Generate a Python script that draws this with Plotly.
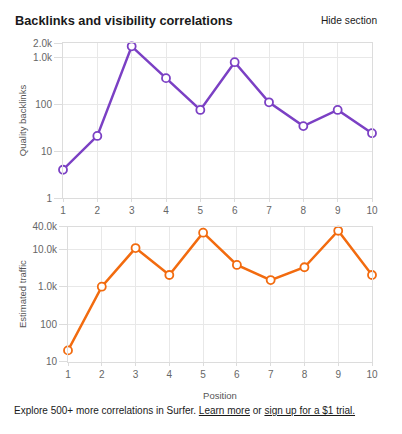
import math
import plotly.graph_objects as go

positions = [1, 2, 3, 4, 5, 6, 7, 8, 9, 10]
quality_backlinks = [4, 21, 1700, 357, 75, 780, 109, 34, 75, 24]
estimated_traffic = [20, 1000, 10700, 2050, 27500, 3800, 1500, 3300, 31000, 2050]

bl_tickvals = [1, 10, 100, 1000, 2000]
bl_ticktext = ["1", "10", "100", "1.0k", "2.0k"]
tr_tickvals = [10, 100, 1000, 10000, 40000]
tr_ticktext = ["10", "100", "1.0k", "10.0k", "40.0k"]

PURPLE = "#7b40c4"
ORANGE = "#f26b0f"
FONT = "Liberation Sans, Arial, Helvetica, sans-serif"
GRID = "#e8e8e8"
LINEC = "#dcdcdc"
TICKC = "#666666"

W, H = 402, 434


def px_x(p):
    return p / W


def px_y(p):
    return 1 - p / H


fig = go.Figure()
fig.add_trace(go.Scatter(
    x=positions, y=quality_backlinks, mode="lines+markers",
    line=dict(color=PURPLE, width=2.5),
    marker=dict(size=8, color="white", line=dict(color=PURPLE, width=1.8)),
    xaxis="x", yaxis="y", cliponaxis=False, showlegend=False, hoverinfo="x+y"))
fig.add_trace(go.Scatter(
    x=positions, y=estimated_traffic, mode="lines+markers",
    line=dict(color=ORANGE, width=2.5),
    marker=dict(size=8, color="white", line=dict(color=ORANGE, width=1.8)),
    xaxis="x2", yaxis="y2", cliponaxis=False, showlegend=False, hoverinfo="x+y"))

common_x = dict(range=[1, 10], tickvals=positions, ticktext=[str(p) for p in positions],
                showgrid=True, gridcolor=GRID, gridwidth=1,
                showline=True, linecolor=LINEC, linewidth=1, mirror=True,
                ticks="outside", ticklen=3, tickcolor=LINEC, automargin=False,
                tickfont=dict(family=FONT, size=10, color=TICKC), zeroline=False)
common_y = dict(type="log", showgrid=True, gridcolor=GRID, gridwidth=1,
                showline=True, linecolor=LINEC, linewidth=1, mirror=True,
                ticks="outside", ticklen=8, tickcolor=LINEC, automargin=False,
                tickfont=dict(family=FONT, size=10, color=TICKC), zeroline=False,
                title_font=dict(family=FONT, size=9.5, color="#555555"))

fig.update_layout(
    width=W, height=H, margin=dict(l=0, r=0, t=0, b=0, autoexpand=False),
    paper_bgcolor="white", plot_bgcolor="white",
    xaxis=dict(common_x, domain=[px_x(63), px_x(372)], anchor="y"),
    yaxis=dict(common_y, domain=[px_y(198), px_y(43)], anchor="x",
               range=[0, math.log10(2000)], tickvals=bl_tickvals, ticktext=bl_ticktext,
               title=dict(text="Quality backlinks", standoff=4)),
    xaxis2=dict(common_x, domain=[px_x(68), px_x(372)], anchor="y2",
                title=dict(text="Position", font=dict(family=FONT, size=9.5, color="#555555"), standoff=13)),
    yaxis2=dict(common_y, domain=[px_y(361.7), px_y(226.6)], anchor="x2",
                range=[1, math.log10(40000)], tickvals=tr_tickvals, ticktext=tr_ticktext,
                title=dict(text="Estimated traffic", standoff=4)),
    annotations=[
        dict(text="<b>Backlinks and visibility correlations</b>", x=px_x(13), y=px_y(20),
             xref="paper", yref="paper", xanchor="left", yanchor="middle", showarrow=False,
             font=dict(family=FONT, size=12.8, color="#1a1a1a")),
        dict(text="Hide section", x=px_x(379), y=px_y(20),
             xref="paper", yref="paper", xanchor="right", yanchor="middle", showarrow=False,
             font=dict(family=FONT, size=10.2, color="#1a1a1a")),
        dict(text="Explore 500+ more correlations in Surfer. <u>Learn more</u> or <u>sign up for a $1 trial.</u>",
             x=px_x(12), y=px_y(410), xref="paper", yref="paper", xanchor="left", yanchor="middle",
             showarrow=False, font=dict(family=FONT, size=10, color="#1a1a1a")),
    ],
)

fig.write_html("out.html")
